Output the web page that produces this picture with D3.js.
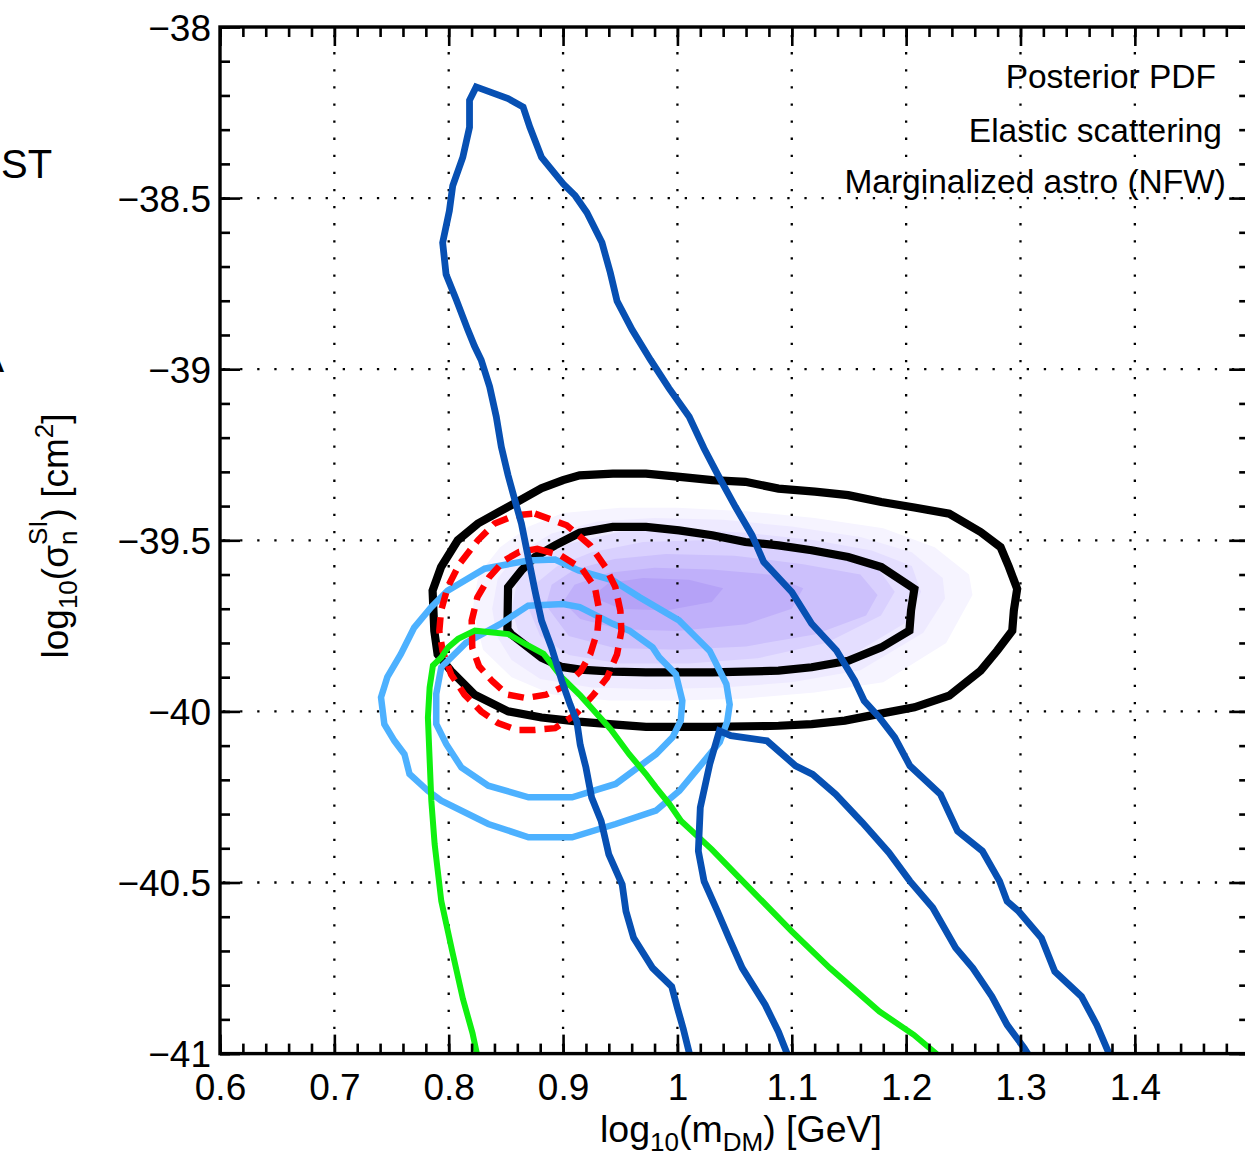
<!DOCTYPE html>
<html>
<head>
<meta charset="utf-8">
<script src="https://cdn.jsdelivr.net/npm/d3@7"></script>
<style>
  body { margin: 0; background: #fff; }
  svg { display: block; }
  text { font-family: "Liberation Sans", Arial, Helvetica, sans-serif; fill: #000; }
</style>
</head>
<body>
<svg id="chart" width="1245" height="1160"></svg>
<script>
// ---- axis ticks and labels ----
const xMajorTicks = [0.6, 0.7, 0.8, 0.9, 1.0, 1.1, 1.2, 1.3, 1.4, 1.5];
const xTickLabels = ["0.6", "0.7", "0.8", "0.9", "1", "1.1", "1.2", "1.3", "1.4", ""];
const yMajorTicks = [-38, -38.5, -39, -39.5, -40, -40.5, -41];
const yTickLabels = ["\u221238", "\u221238.5", "\u221239", "\u221239.5", "\u221240", "\u221240.5", "\u221241"];
const xGridValues = [0.7, 0.8, 0.9, 1.0, 1.1, 1.2, 1.3, 1.4];
const yGridValues = [-38.5, -39, -39.5, -40, -40.5];
const legendEntries = ["Posterior PDF", "Elastic scattering", "Marginalized astro (NFW)"];

// ---- posterior PDF filled levels (outermost to peak), [log10 m, log10 sigma] ----
const pdfLevel1 = [[0.821,-39.70],[0.826,-39.60],[0.845,-39.52],[0.87,-39.46],[0.90,-39.42],[0.95,-39.405],[1.0,-39.405],[1.06,-39.415],[1.12,-39.435],[1.18,-39.465],[1.225,-39.52],[1.255,-39.60],[1.258,-39.66],[1.235,-39.80],[1.18,-39.915],[1.12,-39.945],[1.06,-39.962],[1.0,-39.968],[0.94,-39.968],[0.89,-39.95],[0.855,-39.90],[0.83,-39.82]];
const pdfLevel2 = [[0.838,-39.70],[0.843,-39.61],[0.86,-39.54],[0.89,-39.48],[0.93,-39.445],[0.98,-39.435],[1.04,-39.44],[1.10,-39.46],[1.16,-39.49],[1.205,-39.535],[1.232,-39.61],[1.234,-39.67],[1.215,-39.77],[1.16,-39.88],[1.10,-39.915],[1.04,-39.93],[0.98,-39.935],[0.925,-39.93],[0.88,-39.905],[0.855,-39.85],[0.842,-39.78]];
const pdfLevel3 = [[0.855,-39.70],[0.86,-39.62],[0.878,-39.56],[0.905,-39.51],[0.95,-39.475],[1.0,-39.468],[1.06,-39.478],[1.12,-39.50],[1.17,-39.53],[1.205,-39.575],[1.213,-39.65],[1.20,-39.74],[1.15,-39.84],[1.09,-39.88],[1.03,-39.895],[0.97,-39.898],[0.915,-39.885],[0.88,-39.85],[0.862,-39.78]];
const pdfLevel4 = [[0.87,-39.70],[0.875,-39.63],[0.895,-39.575],[0.925,-39.535],[0.97,-39.505],[1.02,-39.50],[1.08,-39.515],[1.13,-39.54],[1.175,-39.58],[1.19,-39.65],[1.178,-39.72],[1.13,-39.80],[1.07,-39.845],[1.01,-39.86],[0.95,-39.86],[0.905,-39.835],[0.88,-39.78]];
const pdfLevel5 = [[0.885,-39.69],[0.89,-39.63],[0.91,-39.585],[0.945,-39.555],[0.99,-39.54],[1.05,-39.545],[1.11,-39.57],[1.16,-39.60],[1.175,-39.66],[1.165,-39.72],[1.12,-39.775],[1.06,-39.81],[1.0,-39.82],[0.945,-39.815],[0.905,-39.78]];
const pdfLevel6 = [[0.90,-39.68],[0.91,-39.63],[0.94,-39.595],[0.98,-39.58],[1.03,-39.585],[1.08,-39.60],[1.11,-39.64],[1.10,-39.70],[1.06,-39.745],[1.0,-39.765],[0.95,-39.76],[0.915,-39.73]];
const pdfLevel7 = [[0.925,-39.665],[0.94,-39.625],[0.97,-39.61],[1.01,-39.615],[1.04,-39.64],[1.03,-39.68],[0.99,-39.705],[0.95,-39.70]];
const pdfLevelColors = ["#f6f4ff", "#eeeaff", "#e4deff", "#d9d0fe", "#ccc0fc", "#c0b0fa", "#b5a2f7"];

// ---- credible-region contours of the posterior (black) ----
const posterior95 = [[0.7859,-39.647],[0.7933,-39.578],[0.8079,-39.50],[0.8255,-39.451],[0.8548,-39.397],[0.8812,-39.348],[0.9,-39.324],[0.9145,-39.310],[0.9435,-39.305],[0.9725,-39.305],[1.0,-39.314],[1.0304,-39.324],[1.0594,-39.329],[1.0884,-39.349],[1.1203,-39.358],[1.1493,-39.368],[1.1783,-39.388],[1.2072,-39.404],[1.2377,-39.422],[1.2652,-39.476],[1.2826,-39.520],[1.2899,-39.578],[1.2971,-39.642],[1.2942,-39.705],[1.2928,-39.764],[1.2797,-39.822],[1.2652,-39.881],[1.2377,-39.954],[1.2072,-39.988],[1.1754,-40.008],[1.1464,-40.027],[1.1174,-40.037],[1.0884,-40.042],[1.0304,-40.045],[0.9725,-40.045],[0.9435,-40.038],[0.9135,-40.030],[0.8812,-40.018],[0.8519,-40.0],[0.8226,-39.951],[0.8021,-39.882],[0.7903,-39.833],[0.7874,-39.765]];
const posterior68 = [[0.8513,-39.760],[0.8519,-39.637],[0.8636,-39.588],[0.8754,-39.549],[0.893,-39.515],[0.9145,-39.478],[0.9435,-39.461],[0.9725,-39.461],[1.0014,-39.471],[1.0304,-39.485],[1.0594,-39.505],[1.0884,-39.515],[1.1174,-39.529],[1.1493,-39.549],[1.1783,-39.578],[1.2072,-39.642],[1.2043,-39.705],[1.2029,-39.764],[1.1783,-39.813],[1.1493,-39.852],[1.1174,-39.871],[1.0884,-39.881],[1.0304,-39.886],[0.9725,-39.886],[0.9435,-39.884],[0.915,-39.878],[0.8988,-39.870],[0.8812,-39.843],[0.8548,-39.775]];

// ---- elastic scattering regions (red dashed) ----
const elasticOuter = [[0.8754,-39.422],[0.9032,-39.456],[0.9238,-39.515],[0.937,-39.578],[0.9457,-39.637],[0.9501,-39.706],[0.951,-39.765],[0.9472,-39.833],[0.9384,-39.902],[0.9267,-39.951],[0.9106,-40.010],[0.893,-40.049],[0.8754,-40.054],[0.8592,-40.054],[0.8431,-40.034],[0.8284,-40.0],[0.8138,-39.951],[0.8021,-39.892],[0.7947,-39.824],[0.7918,-39.765],[0.7933,-39.706],[0.7991,-39.637],[0.8094,-39.569],[0.8255,-39.5],[0.8402,-39.451],[0.8578,-39.427]];
const elasticInner = [[0.8774,-39.525],[0.8979,-39.544],[0.9165,-39.583],[0.9278,-39.637],[0.9317,-39.706],[0.9301,-39.765],[0.9238,-39.833],[0.9155,-39.882],[0.9013,-39.926],[0.8852,-39.951],[0.8676,-39.961],[0.8514,-39.951],[0.8382,-39.912],[0.8265,-39.868],[0.8206,-39.814],[0.8201,-39.735],[0.825,-39.667],[0.8353,-39.608],[0.8485,-39.559],[0.8617,-39.534]];

// ---- light blue closed regions ----
const lightBlueOuter = [[0.7408,-39.959],[0.7463,-39.90],[0.7581,-39.833],[0.7698,-39.755],[0.7845,-39.696],[0.7991,-39.647],[0.8314,-39.583],[0.8695,-39.559],[0.893,-39.556],[0.9135,-39.588],[0.9435,-39.617],[0.9667,-39.666],[1.0014,-39.734],[1.0164,-39.784],[1.0282,-39.823],[1.037,-39.881],[1.0428,-39.920],[1.0457,-39.98],[1.0435,-40.03],[1.037,-40.09],[1.0164,-40.173],[1.0018,-40.232],[0.9812,-40.290],[0.946,-40.329],[0.9079,-40.368],[0.8698,-40.368],[0.8346,-40.329],[0.7935,-40.261],[0.7818,-40.232],[0.7657,-40.183],[0.7613,-40.125],[0.7525,-40.086],[0.7437,-40.037]];
const lightBlueInner = [[0.7891,-39.949],[0.7935,-39.871],[0.815,-39.80],[0.845,-39.745],[0.8695,-39.691],[0.9,-39.686],[0.9145,-39.695],[0.9435,-39.744],[0.958,-39.764],[0.9783,-39.813],[0.9841,-39.842],[0.9986,-39.891],[1.0043,-39.969],[1.0029,-40.027],[0.9957,-40.076],[0.9812,-40.125],[0.946,-40.212],[0.9079,-40.251],[0.8698,-40.251],[0.8346,-40.217],[0.8111,-40.164],[0.7979,-40.096],[0.7891,-40.037]];

// ---- green boundary ----
const greenBoundary = [[0.8259,-41.02],[0.8208,-40.94],[0.8124,-40.84],[0.803,-40.70],[0.7935,-40.554],[0.7877,-40.388],[0.7848,-40.261],[0.7818,-40.018],[0.7833,-39.930],[0.7862,-39.866],[0.7935,-39.842],[0.7994,-39.813],[0.8082,-39.788],[0.8229,-39.764],[0.8522,-39.774],[0.8669,-39.803],[0.883,-39.832],[0.8991,-39.901],[0.9152,-39.954],[0.9284,-40.003],[0.9416,-40.052],[0.9578,-40.125],[0.9724,-40.183],[0.9812,-40.222],[0.993,-40.271],[1.0032,-40.320],[1.03,-40.403],[1.06,-40.506],[1.1,-40.643],[1.1333,-40.750],[1.1767,-40.877],[1.2067,-40.945],[1.2333,-41.02]];

// ---- dark blue open regions ----
const darkBlueUpper = [[1.012,-41.02],[1.005,-40.926],[1.0,-40.867],[0.995,-40.804],[0.9783,-40.750],[0.9617,-40.662],[0.955,-40.584],[0.9517,-40.506],[0.94,-40.418],[0.9333,-40.320],[0.925,-40.252],[0.92,-40.164],[0.915,-40.098],[0.912,-40.029],[0.9062,-39.980],[0.899,-39.912],[0.890,-39.814],[0.8812,-39.735],[0.8754,-39.647],[0.8695,-39.549],[0.8636,-39.451],[0.8578,-39.382],[0.8519,-39.310],[0.846,-39.227],[0.8416,-39.139],[0.8358,-39.051],[0.8284,-38.973],[0.8226,-38.933],[0.8167,-38.885],[0.8065,-38.796],[0.7977,-38.723],[0.7947,-38.630],[0.8006,-38.537],[0.8035,-38.464],[0.8123,-38.381],[0.8182,-38.293],[0.8182,-38.214],[0.824,-38.175],[0.8519,-38.209],[0.8651,-38.234],[0.871,-38.293],[0.8812,-38.381],[0.9003,-38.459],[0.9106,-38.493],[0.9208,-38.542],[0.934,-38.630],[0.9413,-38.718],[0.9472,-38.801],[0.9604,-38.885],[0.9765,-38.973],[0.9927,-39.056],[1.0103,-39.139],[1.0232,-39.231],[1.0348,-39.305],[1.0507,-39.402],[1.0652,-39.485],[1.0754,-39.563],[1.1,-39.651],[1.1174,-39.744],[1.1391,-39.822],[1.155,-39.91],[1.1633,-39.969],[1.1767,-40.018],[1.19,-40.076],[1.2033,-40.159],[1.23,-40.242],[1.245,-40.350],[1.2667,-40.408],[1.2817,-40.496],[1.2883,-40.555],[1.2983,-40.584],[1.3183,-40.662],[1.33,-40.760],[1.3533,-40.833],[1.3667,-40.916],[1.38,-41.02]];
const darkBlueLower = [[1.0983,-41.02],[1.0883,-40.936],[1.0767,-40.857],[1.0567,-40.750],[1.045,-40.662],[1.035,-40.584],[1.0233,-40.496],[1.0183,-40.408],[1.02,-40.281],[1.0283,-40.154],[1.0367,-40.057],[1.0467,-40.071],[1.0783,-40.086],[1.1033,-40.159],[1.1183,-40.184],[1.1383,-40.242],[1.1617,-40.325],[1.185,-40.413],[1.2033,-40.496],[1.2233,-40.574],[1.2433,-40.691],[1.2583,-40.750],[1.275,-40.833],[1.2883,-40.916],[1.3033,-40.984],[1.31,-41.02]];

// ---- layout ----
const svg = d3.select("#chart");
const plotLeft = 220, plotTop = 27, plotRight = 1249.2, plotBottom = 1053.6;
const x = d3.scaleLinear().domain([0.6, 1.5]).range([plotLeft, plotRight]);
const y = d3.scaleLinear().domain([-38, -41]).range([plotTop, plotBottom]);

svg.append("rect").attr("width", 1245).attr("height", 1160).attr("fill", "#fff");

svg.append("clipPath").attr("id", "plotArea")
  .append("rect").attr("x", plotLeft).attr("y", plotTop)
  .attr("width", plotRight - plotLeft).attr("height", plotBottom - plotTop);

const plot = svg.append("g").attr("clip-path", "url(#plotArea)");

const closedPath = d3.line().x(d => x(d[0])).y(d => y(d[1])).curve(d3.curveLinearClosed);
const openPath = d3.line().x(d => x(d[0])).y(d => y(d[1]));

// posterior density shading
[pdfLevel1, pdfLevel2, pdfLevel3, pdfLevel4, pdfLevel5, pdfLevel6, pdfLevel7].forEach((poly, i) => {
  plot.append("path").attr("d", closedPath(poly)).attr("fill", pdfLevelColors[i]).attr("stroke", "none");
});

// dotted grid
const grid = plot.append("g").attr("stroke", "#000").attr("stroke-width", 2.3)
  .attr("stroke-dasharray", "2.3,14.8").attr("fill", "none");
xGridValues.forEach(v => grid.append("line")
  .attr("x1", x(v)).attr("x2", x(v)).attr("y1", y(-38) + 8).attr("y2", y(-41)));
yGridValues.forEach(v => grid.append("line")
  .attr("x1", x(0.6) + 3).attr("x2", x(1.5)).attr("y1", y(v)).attr("y2", y(v)));

// contours
function contour(data, color, width, closed, dash) {
  const p = plot.append("path")
    .attr("d", (closed ? closedPath : openPath)(data))
    .attr("fill", "none").attr("stroke", color).attr("stroke-width", width)
    .attr("stroke-linejoin", "miter").attr("stroke-miterlimit", 3);
  if (dash) p.attr("stroke-dasharray", dash);
}
contour(posterior95, "#000", 8.2, true);
contour(posterior68, "#000", 8.2, true);
contour(lightBlueOuter, "#4db1ff", 6.5, true);
contour(lightBlueInner, "#4db1ff", 6.5, true);
contour(elasticOuter, "#ff0000", 6.5, true, "16,9");
contour(elasticInner, "#ff0000", 6.5, true, "16,9");
contour(greenBoundary, "#10f010", 6, false);
contour(darkBlueUpper, "#0750b3", 6.8, false);
contour(darkBlueLower, "#0750b3", 6.8, false);

// ---- axes (ticks pointing into the plot) ----
const xMinor = d3.range(0, 46).map(i => +(0.6 + i * 0.02).toFixed(2));
const yMinor = d3.range(0, 31).map(i => +(-38 - i * 0.1).toFixed(1));
const fontTick = 37;

function styleAxis(g, w) {
  g.select(".domain").remove();
  g.selectAll("line").attr("stroke", "#000").attr("stroke-width", w);
  g.attr("font-family", null).attr("font-size", fontTick);
}

svg.append("g").attr("transform", `translate(0,${plotBottom})`)
  .call(d3.axisBottom(x).tickValues(xMinor).tickSize(-10).tickFormat(""))
  .call(g => styleAxis(g, 2.6));
svg.append("g").attr("transform", `translate(0,${plotBottom})`)
  .call(d3.axisBottom(x).tickValues(xMajorTicks).tickSize(-19).tickPadding(20)
    .tickFormat((d, i) => xTickLabels[i]))
  .call(g => styleAxis(g, 2.6))
  .call(g => g.selectAll("text").attr("fill", "#000"));

svg.append("g").attr("transform", `translate(0,${plotTop})`)
  .call(d3.axisTop(x).tickValues(xMinor).tickSize(-10).tickFormat(""))
  .call(g => styleAxis(g, 2.6));
svg.append("g").attr("transform", `translate(0,${plotTop})`)
  .call(d3.axisTop(x).tickValues(xMajorTicks).tickSize(-19).tickFormat(""))
  .call(g => styleAxis(g, 2.6));

svg.append("g").attr("transform", `translate(${plotLeft},0)`)
  .call(d3.axisLeft(y).tickValues(yMinor).tickSize(-10).tickFormat(""))
  .call(g => styleAxis(g, 2.6));
svg.append("g").attr("transform", `translate(${plotLeft},0)`)
  .call(d3.axisLeft(y).tickValues(yMajorTicks).tickSize(-20).tickPadding(9)
    .tickFormat((d, i) => yTickLabels[i]))
  .call(g => styleAxis(g, 2.6))
  .call(g => g.selectAll("text").attr("fill", "#000").attr("dy", "0.36em"));

svg.append("g").attr("transform", `translate(${plotRight},0)`)
  .call(d3.axisRight(y).tickValues(yMinor).tickSize(-10).tickFormat(""))
  .call(g => styleAxis(g, 2.6));
svg.append("g").attr("transform", `translate(${plotRight},0)`)
  .call(d3.axisRight(y).tickValues(yMajorTicks).tickSize(-20).tickFormat(""))
  .call(g => styleAxis(g, 2.6));

// frame
svg.append("rect").attr("x", plotLeft).attr("y", plotTop)
  .attr("width", plotRight - plotLeft).attr("height", plotBottom - plotTop)
  .attr("fill", "none").attr("stroke", "#000").attr("stroke-width", 3.4);

// ---- axis titles ----
const xTitle = svg.append("text").attr("x", 741).attr("y", 1142)
  .attr("text-anchor", "middle").attr("font-size", 37.5);
xTitle.append("tspan").text("log");
xTitle.append("tspan").attr("font-size", 26).attr("dy", 9).text("10");
xTitle.append("tspan").attr("dy", -9).text("(m");
xTitle.append("tspan").attr("font-size", 26).attr("dy", 9).text("DM");
xTitle.append("tspan").attr("dy", -9).text(") [GeV]");

const yTitle = svg.append("text").attr("transform", "translate(68,536) rotate(-90)")
  .attr("text-anchor", "middle").attr("font-size", 37);
yTitle.append("tspan").text("log");
yTitle.append("tspan").attr("font-size", 26).attr("dy", 9).text("10");
yTitle.append("tspan").attr("dy", -9).text("(\u03c3");
yTitle.append("tspan").attr("font-size", 26).attr("dy", 9).text("n");
yTitle.append("tspan").attr("font-size", 26).attr("dx", -14.5).attr("dy", -30).text("SI");
yTitle.append("tspan").attr("dy", 21).text(") [cm");
yTitle.append("tspan").attr("font-size", 26).attr("dy", -15).text("2");
yTitle.append("tspan").attr("dy", 15).text("]");

// ---- legend text ----
const legendX = [1216, 1222, 1226];
const legendY = [88, 142, 193];
legendEntries.forEach((t, i) => {
  svg.append("text").attr("x", legendX[i]).attr("y", legendY[i])
    .attr("text-anchor", "end").attr("font-size", 33.5).text(t);
});

// neighbouring panel text at the left edge
svg.append("text").attr("x", 1).attr("y", 178).attr("text-anchor", "start")
  .attr("font-size", 40).text("ST");
svg.append("text").attr("x", 4).attr("y", 372).attr("text-anchor", "end")
  .attr("font-size", 41).text("A");
</script>
</body>
</html>
